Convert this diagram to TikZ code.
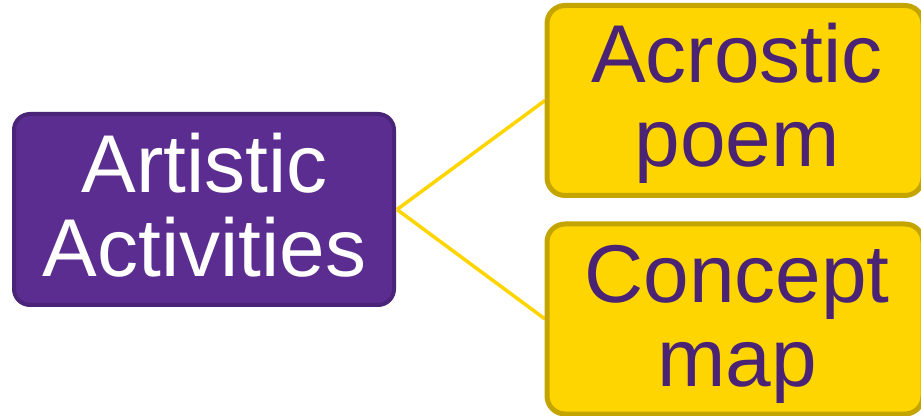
\documentclass[tikz,border=0pt]{standalone}
\usepackage{fontspec}
\setmainfont{Liberation Sans}
\definecolor{pfill}{HTML}{5C2D91}
\definecolor{pborder}{HTML}{4A2479}
\definecolor{yfill}{HTML}{FFD500}
\definecolor{yborder}{HTML}{C4A500}
\definecolor{ytext}{HTML}{4A2375}
\definecolor{yline}{HTML}{FFD500}
\tikzset{
  x=1pt,y=1pt,
  bigtext/.style={font=\fontsize{82}{84}\selectfont, inner sep=0pt, anchor=base},
  pbox/.style={draw=pborder, fill=pfill, line width=4pt, rounded corners=16pt,
    minimum width=380pt, minimum height=191pt, inner sep=0pt},
  ybox/.style={draw=yborder, fill=yfill, line width=5pt, rounded corners=18pt,
    minimum width=376pt, minimum height=190pt, inner sep=0pt},
  wtext/.style={bigtext, text=white},
  ptext/.style={bigtext, text=ytext},
  link/.style={draw=yline, line width=3.5pt}
}
\begin{document}
\begin{tikzpicture}
\useasboundingbox (0,0) rectangle (921,415);
\coordinate (ae) at (397,205.5);
\coordinate (bw) at (545,314.5);
\coordinate (cw) at (545,96);
\draw[link] (ae) -- (bw);
\draw[link] (ae) -- (cw);
\node[pbox] (a) at (204,205.5) {};
\node[ybox] (b) at (735,314.5) {};
\node[ybox] (c) at (735,96) {};
\node[wtext] (a1) at (204.5,222) {Artistic};
\node[wtext] (a2) at (204.5,138) {Activities};
\node[ptext] (b1) at (737,332) {Acrostic};
\node[ptext] (b2) at (737,248) {poem};
\node[ptext] (c1) at (737,112) {Concept};
\node[ptext] (c2) at (737,28) {map};
\end{tikzpicture}
\end{document}
